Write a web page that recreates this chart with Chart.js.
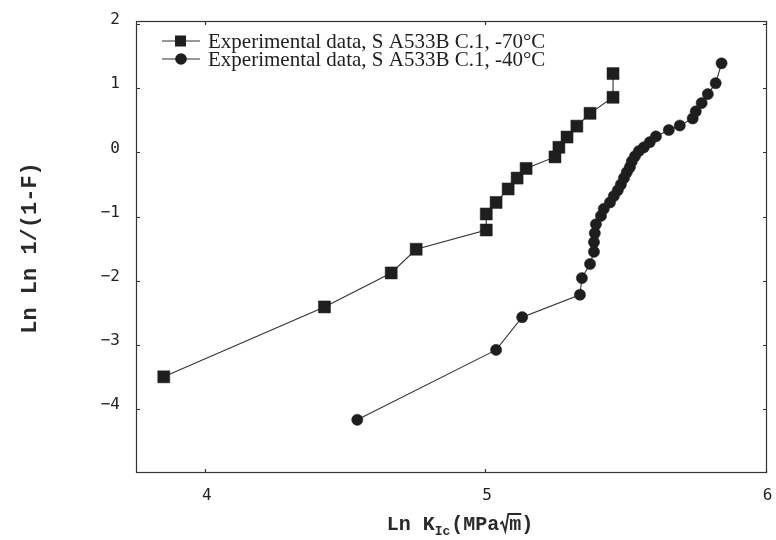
<!DOCTYPE html>
<html><head><meta charset="utf-8">
<script src="https://cdn.jsdelivr.net/npm/chart.js@4.4.0/dist/chart.umd.min.js"></script>
<style>html,body{margin:0;padding:0;background:#fff}#wrap{width:776px;height:540px}</style>
</head><body><div id="wrap"><canvas id="c" width="776" height="540"></canvas></div>
<script>
// ---- data ----
const seriesLabels = ['Experimental data, S A533B C.1, -70\u00B0C', 'Experimental data, S A533B C.1, -40\u00B0C'];
const sqX = [3.854, 4.427, 4.665, 4.754, 5.004, 5.004, 5.039, 5.082, 5.114, 5.146, 5.249, 5.263, 5.292, 5.327, 5.374, 5.456, 5.456];
const sqY = [-3.50, -2.41, -1.88, -1.51, -1.21, -0.96, -0.78, -0.57, -0.40, -0.25, -0.07, 0.08, 0.24, 0.41, 0.61, 0.86, 1.23];
const ciX = [4.544, 5.039, 5.132, 5.338, 5.345, 5.374, 5.388, 5.388, 5.391, 5.395, 5.413, 5.423, 5.445, 5.459, 5.473, 5.484, 5.495, 5.505, 5.516, 5.523, 5.534, 5.548, 5.566, 5.587, 5.609, 5.655, 5.694, 5.740, 5.751, 5.772, 5.794, 5.822, 5.843];
const ciY = [-4.17, -3.08, -2.57, -2.22, -1.96, -1.74, -1.55, -1.40, -1.26, -1.12, -0.99, -0.88, -0.78, -0.68, -0.59, -0.50, -0.40, -0.31, -0.23, -0.14, -0.06, 0.02, 0.08, 0.16, 0.25, 0.35, 0.42, 0.53, 0.64, 0.77, 0.91, 1.08, 1.39];
const xTicks = [4, 5, 6];
const yTicks = [-4, -3, -2, -1, 0, 1, 2];
const yTitle = 'Ln Ln 1/(1-F)';
const xTitleParts = ['Ln K', 'Ic', '(MPa', 'm', ')'];

const toPts = (xs, ys) => xs.map((x, i) => ({x: x, y: ys[i]}));
const ink = '#1e1e1e';
const lineInk = '#333';
const tickFont = '16px "DejaVu Sans Mono", monospace';

const framePlugin = {
  id: 'frame',
  afterDraw(chart) {
    const ctx = chart.ctx, a = chart.chartArea;
    const xs = chart.scales.x, ys = chart.scales.y;
    ctx.save();
    ctx.strokeStyle = '#333';
    ctx.lineWidth = 1.2;
    ctx.strokeRect(a.left + 0.5, a.top + 0.5, a.right - a.left - 1, a.bottom - a.top - 1);
    ctx.beginPath();
    xTicks.forEach(v => {
      const p = Math.round(xs.getPixelForValue(v)) + 0.5;
      ctx.moveTo(p, a.bottom); ctx.lineTo(p, a.bottom - 4);
      ctx.moveTo(p, a.top); ctx.lineTo(p, a.top + 4);
    });
    yTicks.forEach(v => {
      const p = Math.round(ys.getPixelForValue(v)) + 0.5;
      ctx.moveTo(a.left, p); ctx.lineTo(a.left + 4, p);
      ctx.moveTo(a.right, p); ctx.lineTo(a.right - 4, p);
    });
    ctx.stroke();

    // tick labels
    ctx.fillStyle = '#222';
    ctx.font = tickFont;
    ctx.textBaseline = 'middle';
    ctx.textAlign = 'center';
    xTicks.forEach(v => ctx.fillText(String(v), xs.getPixelForValue(v) + 2, a.bottom + 23));
    ctx.textAlign = 'right';
    yTicks.forEach(v => ctx.fillText(v < 0 ? '\u2212' + Math.abs(v) : String(v), a.left - 16, ys.getPixelForValue(v) - 4));

    // legend
    ctx.font = '21px "Liberation Serif", "Times New Roman", serif';
    ctx.textAlign = 'left';
    ctx.textBaseline = 'middle';
    const rows = [41, 59];
    chart.data.datasets.forEach((ds, i) => {
      const y = rows[i];
      ctx.strokeStyle = lineInk; ctx.lineWidth = 1.2;
      ctx.beginPath(); ctx.moveTo(162, y); ctx.lineTo(200, y); ctx.stroke();
      ctx.fillStyle = ink;
      if (i === 0) { ctx.fillRect(175, y - 5.5, 11, 11); }
      else { ctx.beginPath(); ctx.arc(181, y, 5.8, 0, Math.PI * 2); ctx.fill(); }
      ctx.fillText(ds.label, 208, y + 1);
    });

    // y title
    ctx.save();
    ctx.translate(30, 248);
    ctx.rotate(-Math.PI / 2);
    ctx.font = 'bold 22px "Liberation Mono", "DejaVu Sans Mono", monospace';
    ctx.textAlign = 'center';
    ctx.textBaseline = 'middle';
    ctx.fillStyle = '#2a2a2a';
    ctx.fillText(yTitle, 0, 0);
    ctx.restore();

    // x title
    const big = 'bold 20px "Liberation Mono", "DejaVu Sans Mono", monospace';
    const small = 'bold 13px "Liberation Mono", "DejaVu Sans Mono", monospace';
    ctx.fillStyle = '#2a2a2a';
    ctx.textBaseline = 'alphabetic';
    ctx.textAlign = 'left';
    ctx.font = big; const w0 = ctx.measureText(xTitleParts[0]).width;
    ctx.font = small; const w1 = ctx.measureText(xTitleParts[1]).width;
    ctx.font = big; const w2 = ctx.measureText(xTitleParts[2]).width;
    const wr = 10;
    const w3 = ctx.measureText(xTitleParts[3]).width;
    const w4 = ctx.measureText(xTitleParts[4]).width;
    const total = w0 + w1 + 1 + w2 + wr + w3 + w4;
    let x = 460 - total / 2;
    const base = 530;
    ctx.fillText(xTitleParts[0], x, base); x += w0;
    ctx.font = small; ctx.fillText(xTitleParts[1], x, base + 5); x += w1 + 1;
    ctx.font = big; ctx.fillText(xTitleParts[2], x, base); x += w2;
    ctx.strokeStyle = '#2a2a2a'; ctx.lineWidth = 1.8;
    ctx.beginPath();
    ctx.moveTo(x + 1, base - 6);
    ctx.lineTo(x + 3, base - 8);
    ctx.lineTo(x + 6, base + 1);
    ctx.lineTo(x + 9, base - 16);
    ctx.lineTo(x + wr + w3, base - 16);
    ctx.stroke();
    x += wr;
    ctx.fillText(xTitleParts[3], x, base); x += w3;
    ctx.fillText(xTitleParts[4], x, base);
    ctx.restore();
  }
};

new Chart(document.getElementById('c'), {
  type: 'scatter',
  data: {
    datasets: [
      { label: seriesLabels[0], data: toPts(sqX, sqY), showLine: true,
        borderColor: lineInk, borderWidth: 1.1,
        pointStyle: 'rect', pointRadius: 8.5, pointBackgroundColor: ink, pointBorderColor: ink, pointBorderWidth: 0.5 },
      { label: seriesLabels[1], data: toPts(ciX, ciY), showLine: true,
        borderColor: lineInk, borderWidth: 1.1,
        pointStyle: 'circle', pointRadius: 5.6, pointBackgroundColor: ink, pointBorderColor: ink, pointBorderWidth: 0.5 }
    ]
  },
  options: {
    responsive: false,
    animation: false,
    layout: { padding: { top: 21, right: 5, left: 0, bottom: 0 } },
    plugins: { legend: { display: false }, tooltip: { enabled: false } },
    scales: {
      x: {
        type: 'linear', min: 3.755, max: 6.005,
        grid: { display: false }, border: { display: false },
        afterBuildTicks: s => { s.ticks = xTicks.map(v => ({ value: v })); },
        afterFit: s => { s.height = 67; },
        ticks: { display: false }
      },
      y: {
        type: 'linear', min: -5, max: 2.05,
        grid: { display: false }, border: { display: false },
        afterBuildTicks: s => { s.ticks = yTicks.map(v => ({ value: v })); },
        afterFit: s => { s.width = 136; },
        ticks: { display: false }
      }
    }
  },
  plugins: [framePlugin]
});
</script>
</body></html>
